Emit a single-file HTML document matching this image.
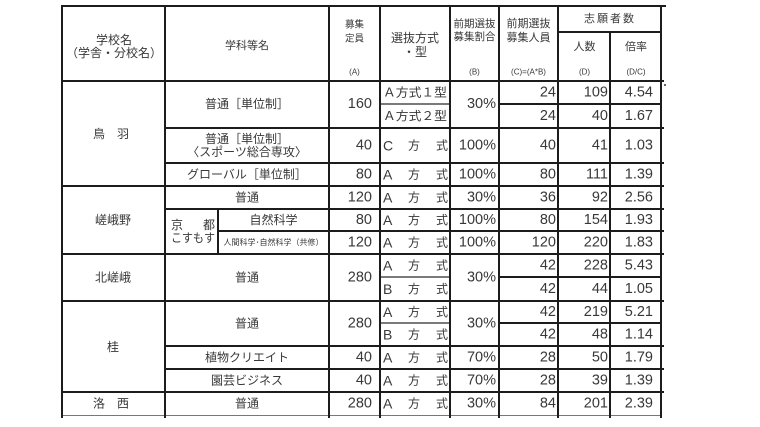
<!DOCTYPE html>
<html>
<head>
<meta charset="utf-8">
<style>
html,body{margin:0;padding:0;background:#fff;}
svg{display:block;}
text{font-family:"Liberation Sans","Noto Sans CJK JP",sans-serif;fill:#383838;dominant-baseline:central;}
.j{font-size:12px;}
.h{font-size:11px;}
.s{font-size:8px;}
.n{font-size:14.5px;text-anchor:end;}
.m{text-anchor:middle;}
.e{text-anchor:end;}
.l line{stroke:#1c1c1c;stroke-width:2;}
.t line{stroke:#2a2a2a;stroke-width:1.3;}
</style>
</head>
<body>
<svg width="760" height="427" viewBox="0 0 760 427" xmlns="http://www.w3.org/2000/svg">
<rect width="760" height="427" fill="#fff"/>
<!-- horizontal lines -->
<g class="l">
<line x1="61" y1="6" x2="666" y2="6"/>
<line x1="558" y1="32" x2="662" y2="32"/>
<line x1="61" y1="81" x2="664" y2="81"/>
<line x1="499" y1="104" x2="662" y2="104"/>
<line x1="165" y1="128" x2="664" y2="128"/>
<line x1="165" y1="163" x2="664" y2="163"/>
<line x1="61" y1="186" x2="664" y2="186"/>
<line x1="165" y1="209" x2="664" y2="209"/>
<line x1="218" y1="231" x2="664" y2="231"/>
<line x1="61" y1="254" x2="664" y2="254"/>
<line x1="499" y1="277" x2="662" y2="277"/>
<line x1="61" y1="301" x2="664" y2="301"/>
<line x1="499" y1="323" x2="662" y2="323"/>
<line x1="165" y1="346" x2="664" y2="346"/>
<line x1="165" y1="369" x2="664" y2="369"/>
<line x1="61" y1="392" x2="664" y2="392"/>
</g>
<g class="t">
<line x1="380" y1="104" x2="450" y2="104"/>
<line x1="380" y1="277" x2="450" y2="277"/>
<line x1="380" y1="323" x2="450" y2="323"/>
</g>
<line x1="61" y1="415.5" x2="662" y2="415.5" stroke="#777" stroke-width="1"/>
<!-- vertical lines -->
<g class="l">
<line x1="62" y1="5" x2="62" y2="418"/>
<line x1="165" y1="5" x2="165" y2="418"/>
<line x1="218" y1="209" x2="218" y2="254"/>
<line x1="329" y1="5" x2="329" y2="418"/>
<line x1="380" y1="5" x2="380" y2="418"/>
<line x1="450" y1="5" x2="450" y2="418"/>
<line x1="499" y1="5" x2="499" y2="418"/>
<line x1="558" y1="5" x2="558" y2="418"/>
<line x1="610" y1="32" x2="610" y2="418"/>
<line x1="661" y1="5" x2="661" y2="418"/>
</g>
<circle cx="665" cy="85" r="1" fill="#333"/>

<!-- header -->
<text class="j m" x="114" y="40">学校名</text>
<text class="j m" x="114" y="53">（学舎・分校名）</text>
<text class="h m" x="247" y="46">学科等名</text>
<text class="m" style="font-size:9.5px" x="354.5" y="25">募集</text>
<text class="m" style="font-size:9.5px" x="354.5" y="39">定員</text>
<text class="s m" x="354.5" y="72">(A)</text>
<text class="j m" x="415" y="38">選抜方式</text>
<text class="j m" x="415" y="52">・型</text>
<text class="m" style="font-size:10.5px" x="474.5" y="24">前期選抜</text>
<text class="m" style="font-size:10.5px" x="474.5" y="37">募集割合</text>
<text class="s m" x="474.5" y="72">(B)</text>
<text class="h m" x="528.5" y="24">前期選抜</text>
<text class="h m" x="528.5" y="38">募集人員</text>
<text class="s m" x="528.5" y="72">(C)=(A*B)</text>
<text class="h m" x="610" y="19" style="letter-spacing:2px">志願者数</text>
<text class="h m" x="584.5" y="47">人数</text>
<text class="h m" x="636" y="47">倍率</text>
<text class="s m" x="584.5" y="72">(D)</text>
<text class="s m" x="636" y="72">(D/C)</text>

<!-- school names -->
<text class="j m" x="111" y="134">鳥　羽</text>
<text class="j m" x="113" y="220">嵯峨野</text>
<text class="j m" x="113" y="277.5">北嵯峨</text>
<text class="j m" x="113" y="347">桂</text>
<text class="j m" x="111" y="403.5">洛　西</text>

<!-- departments -->
<text class="j m" x="247" y="104">普通［単位制］</text>
<text class="j m" x="247" y="139">普通［単位制］</text>
<text class="j m" x="247" y="152">〈スポーツ総合専攻〉</text>
<text class="j m" x="247" y="174.5">グローバル［単位制］</text>
<text class="j m" x="247" y="197.5">普通</text>
<text class="j" x="171" y="225">京</text>
<text class="j e" x="215" y="225">都</text>
<text class="j" x="171" y="238" textLength="44" lengthAdjust="spacingAndGlyphs">こすもす</text>
<text class="j m" x="273.5" y="220">自然科学</text>
<text class="s m" x="273.5" y="242.5">人間科学･自然科学（共修）</text>
<text class="j m" x="247" y="277.5">普通</text>
<text class="j m" x="247" y="323.5">普通</text>
<text class="j m" x="247" y="357.5">植物クリエイト</text>
<text class="j m" x="247" y="380.5">園芸ビジネス</text>
<text class="j m" x="247" y="403.5">普通</text>

<!-- capacity A -->
<text class="n" x="372" y="104">160</text>
<text class="n" x="372" y="145.5">40</text>
<text class="n" x="372" y="174.5">80</text>
<text class="n" x="372" y="197.5">120</text>
<text class="n" x="372" y="220">80</text>
<text class="n" x="372" y="242.5">120</text>
<text class="n" x="372" y="277.5">280</text>
<text class="n" x="372" y="323.5">280</text>
<text class="n" x="372" y="357.5">40</text>
<text class="n" x="372" y="380.5">40</text>
<text class="n" x="372" y="403.5">280</text>

<!-- selection methods -->
<text class="j" x="383" y="92.5" textLength="64" lengthAdjust="spacingAndGlyphs">Ａ方式１型</text>
<text class="j" x="383" y="116" textLength="64" lengthAdjust="spacingAndGlyphs">Ａ方式２型</text>
<g style="font-size:14px">
<text x="383" y="145.5">C</text>
<text x="383" y="174.5">A</text>
<text x="383" y="197.5">A</text>
<text x="383" y="220">A</text>
<text x="383" y="242.5">A</text>
<text x="383" y="265.5">A</text>
<text x="383" y="289">B</text>
<text x="383" y="312">A</text>
<text x="383" y="334.5">B</text>
<text x="383" y="357.5">A</text>
<text x="383" y="380.5">A</text>
<text x="383" y="403.5">A</text>
</g>
<g class="j">
<text class="m" x="414" y="145.5">方</text><text class="e" x="448" y="145.5">式</text>
<text class="m" x="414" y="174.5">方</text><text class="e" x="448" y="174.5">式</text>
<text class="m" x="414" y="197.5">方</text><text class="e" x="448" y="197.5">式</text>
<text class="m" x="414" y="220">方</text><text class="e" x="448" y="220">式</text>
<text class="m" x="414" y="242.5">方</text><text class="e" x="448" y="242.5">式</text>
<text class="m" x="414" y="265.5">方</text><text class="e" x="448" y="265.5">式</text>
<text class="m" x="414" y="289">方</text><text class="e" x="448" y="289">式</text>
<text class="m" x="414" y="312">方</text><text class="e" x="448" y="312">式</text>
<text class="m" x="414" y="334.5">方</text><text class="e" x="448" y="334.5">式</text>
<text class="m" x="414" y="357.5">方</text><text class="e" x="448" y="357.5">式</text>
<text class="m" x="414" y="380.5">方</text><text class="e" x="448" y="380.5">式</text>
<text class="m" x="414" y="403.5">方</text><text class="e" x="448" y="403.5">式</text>
</g>

<!-- percentages B -->
<text class="n" x="496" y="104">30%</text>
<text class="n" x="496" y="145.5">100%</text>
<text class="n" x="496" y="174.5">100%</text>
<text class="n" x="496" y="197.5">30%</text>
<text class="n" x="496" y="220">100%</text>
<text class="n" x="496" y="242.5">100%</text>
<text class="n" x="496" y="277.5">30%</text>
<text class="n" x="496" y="323.5">30%</text>
<text class="n" x="496" y="357.5">70%</text>
<text class="n" x="496" y="380.5">70%</text>
<text class="n" x="496" y="403.5">30%</text>

<!-- C -->
<text class="n" x="556" y="92.5">24</text>
<text class="n" x="556" y="116">24</text>
<text class="n" x="556" y="145.5">40</text>
<text class="n" x="556" y="174.5">80</text>
<text class="n" x="556" y="197.5">36</text>
<text class="n" x="556" y="220">80</text>
<text class="n" x="556" y="242.5">120</text>
<text class="n" x="556" y="265.5">42</text>
<text class="n" x="556" y="289">42</text>
<text class="n" x="556" y="312">42</text>
<text class="n" x="556" y="334.5">42</text>
<text class="n" x="556" y="357.5">28</text>
<text class="n" x="556" y="380.5">28</text>
<text class="n" x="556" y="403.5">84</text>

<!-- D -->
<text class="n" x="608" y="92.5">109</text>
<text class="n" x="608" y="116">40</text>
<text class="n" x="608" y="145.5">41</text>
<text class="n" x="608" y="174.5">111</text>
<text class="n" x="608" y="197.5">92</text>
<text class="n" x="608" y="220">154</text>
<text class="n" x="608" y="242.5">220</text>
<text class="n" x="608" y="265.5">228</text>
<text class="n" x="608" y="289">44</text>
<text class="n" x="608" y="312">219</text>
<text class="n" x="608" y="334.5">48</text>
<text class="n" x="608" y="357.5">50</text>
<text class="n" x="608" y="380.5">39</text>
<text class="n" x="608" y="403.5">201</text>

<!-- D/C -->
<text class="n" x="653" y="92.5">4.54</text>
<text class="n" x="653" y="116">1.67</text>
<text class="n" x="653" y="145.5">1.03</text>
<text class="n" x="653" y="174.5">1.39</text>
<text class="n" x="653" y="197.5">2.56</text>
<text class="n" x="653" y="220">1.93</text>
<text class="n" x="653" y="242.5">1.83</text>
<text class="n" x="653" y="265.5">5.43</text>
<text class="n" x="653" y="289">1.05</text>
<text class="n" x="653" y="312">5.21</text>
<text class="n" x="653" y="334.5">1.14</text>
<text class="n" x="653" y="357.5">1.79</text>
<text class="n" x="653" y="380.5">1.39</text>
<text class="n" x="653" y="403.5">2.39</text>
</svg>
</body>
</html>
